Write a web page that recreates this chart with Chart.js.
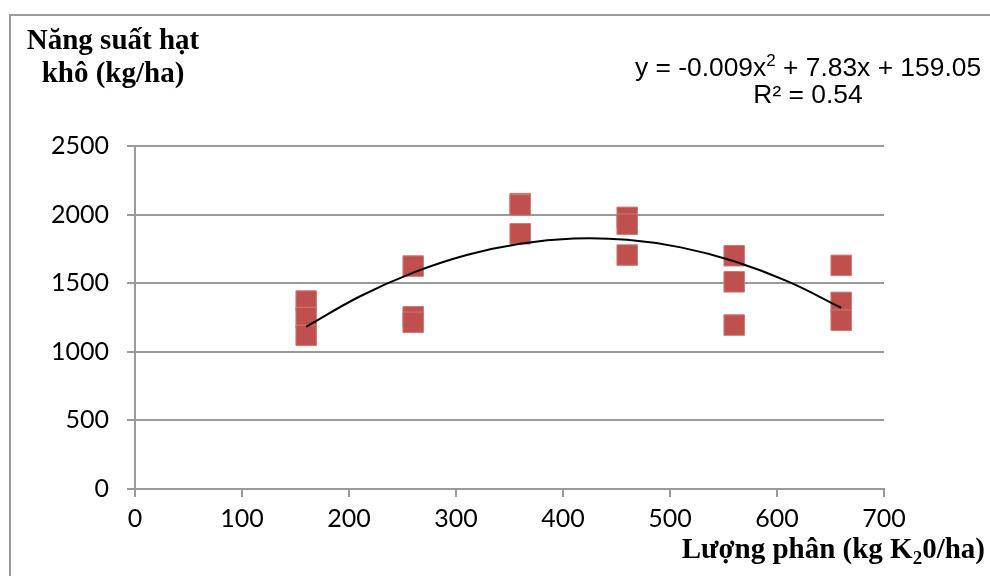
<!DOCTYPE html>
<html>
<head>
<meta charset="utf-8">
<script src="https://cdn.jsdelivr.net/npm/chart.js@4/dist/chart.umd.min.js"></script>
<style>
html,body{margin:0;padding:0;background:#fff;}
canvas{display:block;}
</style>
</head>
<body>
<canvas id="c" width="990" height="576"></canvas>
<script>
// Observed data: potassium dose (kg K2O/ha) and dry grain yield (kg/ha)
const doses  = [160,160,160, 260,260,260, 360,360,360, 460,460,460, 560,560,560, 660,660,660];
const yields = [1370,1250,1120, 1625,1255,1215, 2080,2070,1860, 1980,1930,1705, 1700,1510,1195, 1630,1360,1230];
// Trendline
const trendX = [160,210,260,310,360,410,460,510,560,610,660];
const trendY = [1183,1403,1577,1706,1788,1825,1816,1761,1660,1513,1321];
// Axis ticks
const xTicks = [0,100,200,300,400,500,600,700];
const yTicks = [0,500,1000,1500,2000,2500];

const yTitle = ["Năng suất hạt", "khô (kg/ha)"];
const xTitleParts = ["Lượng phân (kg K", "2", "0/ha)"];
const eqParts = ["y = -0.009x", "2", " + 7.83x + 159.05"];
const r2Text = "R² = 0.54";

const textPlugin = {
  id: 'texts',
  afterDraw(chart) {
    const ctx = chart.ctx;
    ctx.save();
    // frame
    ctx.strokeStyle = '#9a9a9a';
    ctx.lineWidth = 2;
    ctx.strokeRect(10, 15, 1200, 900);
    ctx.fillStyle = '#000';
    // y title
    ctx.font = 'bold 29px "Liberation Serif"';
    ctx.textAlign = 'center';
    ctx.textBaseline = 'alphabetic';
    ctx.fillText(yTitle[0], 113, 49);
    ctx.fillText(yTitle[1], 113, 82);
    // x title with subscript
    ctx.textAlign = 'left';
    const big = 'bold 29px "Liberation Serif"', small = 'bold 19px "Liberation Serif"';
    ctx.font = big; const w0 = ctx.measureText(xTitleParts[0]).width, w2 = ctx.measureText(xTitleParts[2]).width;
    ctx.font = small; const w1 = ctx.measureText(xTitleParts[1]).width;
    const total = w0 + w1 + w2;
    let x = 985 - total;
    const by = 558;
    ctx.font = big; ctx.fillText(xTitleParts[0], x, by); x += w0;
    ctx.font = small; ctx.fillText(xTitleParts[1], x, by + 6); x += w1;
    ctx.font = big; ctx.fillText(xTitleParts[2], x, by);
    // equation
    const ef = '26.4px "Liberation Sans"', es = '17px "Liberation Sans"';
    ctx.font = ef; const e0 = ctx.measureText(eqParts[0]).width, e2 = ctx.measureText(eqParts[2]).width;
    ctx.font = es; const e1 = ctx.measureText(eqParts[1]).width;
    let ex = 808 - (e0 + e1 + e2) / 2;
    ctx.font = ef; ctx.fillText(eqParts[0], ex, 76); ex += e0;
    ctx.font = es; ctx.fillText(eqParts[1], ex, 66); ex += e1;
    ctx.font = ef; ctx.fillText(eqParts[2], ex, 76);
    ctx.textAlign = 'center';
    ctx.fillText(r2Text, 808, 103);
    ctx.restore();
  }
};

new Chart(document.getElementById('c'), {
  type: 'scatter',
  data: {
    datasets: [
      {
        label: 'trend',
        data: trendX.map((v, i) => ({x: v, y: trendY[i]})),
        showLine: true,
        borderColor: '#000',
        borderWidth: 2,
        pointRadius: 0,
        tension: 0.4,
        fill: false,
        order: 0
      },
      {
        label: 'yield',
        data: doses.map((v, i) => ({x: v, y: yields[i]})),
        pointStyle: 'rect',
        pointRadius: 14.5,
        backgroundColor: '#c0504d',
        borderColor: '#cd7a78',
        borderWidth: 1,
        order: 1
      }
    ]
  },
  options: {
    responsive: false,
    animation: false,
    devicePixelRatio: 1,
    layout: {padding: {top: 146, right: 106, left: 0, bottom: 0}},
    plugins: {legend: {display: false}, tooltip: {enabled: false}},
    scales: {
      x: {
        type: 'linear', min: 0, max: 700,
        afterBuildTicks(s) { s.ticks = xTicks.map(v => ({value: v})); },
        afterFit(s) { s.height = 87; },
        ticks: {font: {family: 'Lato', size: 25}, color: '#000', padding: 7, maxRotation: 0,
                callback: v => String(v)},
        grid: {drawOnChartArea: false, tickLength: 8, color: '#9a9a9a', lineWidth: 2},
        border: {color: '#9a9a9a', width: 2}
      },
      y: {
        min: 0, max: 2500,
        afterBuildTicks(s) { s.ticks = yTicks.map(v => ({value: v})); },
        afterFit(s) { s.width = 135; },
        ticks: {font: {family: 'Lato', size: 25}, color: '#000', padding: 18,
                callback: v => String(v)},
        grid: {tickLength: 8, color: '#9a9a9a', lineWidth: 2},
        border: {color: '#9a9a9a', width: 2}
      }
    }
  },
  plugins: [textPlugin]
});
</script>
</body>
</html>
